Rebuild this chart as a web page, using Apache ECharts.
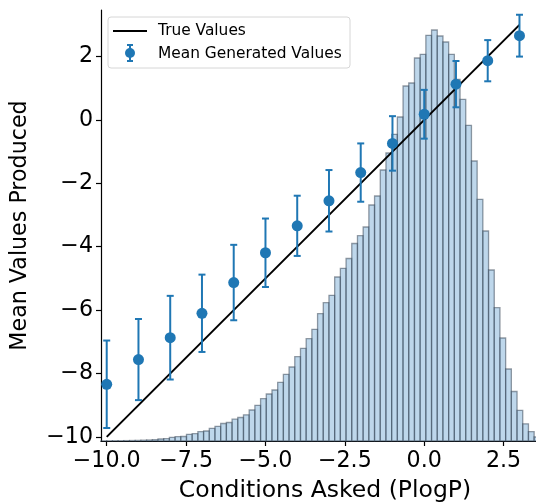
<!DOCTYPE html>
<html>
<head>
<meta charset="utf-8">
<script src="https://cdn.jsdelivr.net/npm/echarts@6/dist/echarts.min.js"></script>
<style>
html,body{margin:0;padding:0;background:#fff;}
#chart{width:536px;height:503px;}
</style>
</head>
<body>
<div id="chart"></div>
<script>
// ---- data ----
const conditions = [-10, -9, -8, -7, -6, -5, -4, -3, -2, -1, 0, 1, 2, 3];
const meanGenerated = [-8.34, -7.56, -6.87, -6.10, -5.13, -4.19, -3.34, -2.55, -1.66, -0.74, 0.18, 1.13, 1.87, 2.66];
const stdGenerated = [1.38, 1.28, 1.32, 1.22, 1.19, 1.08, 0.95, 0.97, 0.92, 0.86, 0.77, 0.73, 0.65, 0.66];
const trueLineX = [-10, 3];
const trueLineY = [-10, 3];
// histogram of the training-set PlogP (arbitrary count units)
const histStart = -10.18;
const histBinWidth = 0.1795;
const histCounts = [0.2, 0.2, 0.3, 0.3, 0.4, 0.5, 0.6, 0.8, 1.0, 1.3, 2.0, 2.3, 3.7, 4.3, 4.5, 6.7, 7.3, 9.3, 10, 12.7,
  14.7, 17.5, 18.5, 21.8, 23.5, 26.2, 31, 35.7, 42.3, 47, 51, 58.6, 66.7, 74, 84.3, 92.7, 102.3, 111.7, 127.3, 138.3,
  145.7, 164, 172.7, 182.5, 197.5, 205.3, 214, 236, 245, 271, 288, 306.7, 324, 355, 358, 383, 386.7, 405.7, 411, 405,
  399, 386.7, 361.7, 341.7, 315.7, 280, 241.7, 210, 171, 133.3, 103, 72, 49.5, 30.7, 17.2, 9.3, 4];
const xTicks = [-10, -7.5, -5, -2.5, 0, 2.5];
const yTicks = [-10, -8, -6, -4, -2, 0, 2];

const X_MIN = -10.18, X_MAX = 3.93, Y_MIN = -10.13, Y_MAX = 3.47, HIST_MAX = 431;
const BLUE = '#1f77b4';
const FONT = 'DejaVu Sans';

const histData = histCounts.map((c, i) => [histStart + i * histBinWidth, histStart + (i + 1) * histBinWidth, c]);
const errData = conditions.map((x, i) => [x, meanGenerated[i], stdGenerated[i]]);
const meanData = conditions.map((x, i) => [x, meanGenerated[i]]);
const lineData = trueLineX.map((x, i) => [x, trueLineY[i]]);

const fmtMinus = s => String(s).replace('-', '\u2212');

const chart = echarts.init(document.getElementById('chart'), null, {renderer: 'canvas'});
const option = {
  animation: false,
  backgroundColor: '#fff',
  grid: {left: 101, top: 10, right: -13, bottom: 62, containLabel: false, outerBoundsMode: 'none'},
  xAxis: [{
    type: 'value', min: X_MIN, max: X_MAX,
    name: 'Conditions Asked (PlogP)', nameLocation: 'middle', nameGap: 38,
    nameTextStyle: {fontFamily: FONT, fontSize: 23.5, color: '#000'},
    axisLine: {show: true, onZero: false, lineStyle: {color: '#000', width: 1.2}},
    axisTick: {show: true, customValues: xTicks, length: 5, lineStyle: {color: '#000', width: 1.2}},
    axisLabel: {show: true, customValues: xTicks, margin: 9, fontFamily: FONT, fontSize: 22.2, color: '#000',
      formatter: v => fmtMinus(v.toFixed(1))},
    splitLine: {show: false}
  }],
  yAxis: [{
    type: 'value', min: Y_MIN, max: Y_MAX,
    name: 'Mean Values Produced', nameLocation: 'middle', nameGap: 70,
    nameTextStyle: {fontFamily: FONT, fontSize: 22.2, color: '#000'},
    axisLine: {show: true, onZero: false, lineStyle: {color: '#000', width: 1.2}},
    axisTick: {show: true, customValues: yTicks, length: 5, lineStyle: {color: '#000', width: 1.2}},
    axisLabel: {show: true, customValues: yTicks, margin: 8, fontFamily: FONT, fontSize: 22.2, color: '#000',
      formatter: v => fmtMinus(Math.round(v))},
    splitLine: {show: false}
  }, {
    type: 'value', min: 0, max: HIST_MAX, show: false,
    axisLine: {show: false}, axisTick: {show: false}, axisLabel: {show: false}, splitLine: {show: false}
  }],
  series: [{
    name: 'Histogram', type: 'custom', xAxisIndex: 0, yAxisIndex: 1, z: 1, clip: false,
    data: histData,
    renderItem: (params, api) => {
      const p0 = api.coord([api.value(0), 0]);
      const p1 = api.coord([api.value(1), api.value(2)]);
      return {type: 'rect',
        shape: {x: p0[0], y: p1[1], width: p1[0] - p0[0], height: p0[1] - p1[1]},
        style: {fill: 'rgba(125,175,215,0.5)', stroke: 'rgba(45,60,75,0.5)', lineWidth: 1.3}};
    }
  }, {
    name: 'True Values', type: 'line', z: 3, data: lineData, symbol: 'none',
    lineStyle: {color: '#000', width: 2}
  }, {
    name: 'ErrorBars', type: 'custom', z: 4, data: errData,
    renderItem: (params, api) => {
      const x = api.value(0), m = api.value(1), e = api.value(2);
      const top = api.coord([x, m + e]);
      const bot = api.coord([x, m - e]);
      const cw = 3.5;
      const st = {stroke: BLUE, lineWidth: 2};
      return {type: 'group', children: [
        {type: 'line', shape: {x1: top[0], y1: top[1], x2: bot[0], y2: bot[1]}, style: st},
        {type: 'line', shape: {x1: top[0] - cw, y1: top[1], x2: top[0] + cw, y2: top[1]}, style: st},
        {type: 'line', shape: {x1: bot[0] - cw, y1: bot[1], x2: bot[0] + cw, y2: bot[1]}, style: st}
      ]};
    }
  }, {
    name: 'Mean Generated Values', type: 'scatter', z: 5, data: meanData,
    symbol: 'circle', symbolSize: 11, itemStyle: {color: BLUE, opacity: 1}
  }],
  graphic: [
    {type: 'rect', z: 100, shape: {x: 108, y: 17, width: 242, height: 51, r: 3},
      style: {fill: 'rgba(255,255,255,0.8)', stroke: '#d6d6d6', lineWidth: 1}},
    {type: 'line', z: 101, shape: {x1: 113, y1: 31, x2: 147, y2: 31}, style: {stroke: '#000', lineWidth: 2}},
    {type: 'text', z: 101, x: 158, y: 31, style: {text: 'True Values', fontFamily: FONT, fontSize: 15.4, fill: '#000', verticalAlign: 'middle'}},
    {type: 'line', z: 101, shape: {x1: 130, y1: 45, x2: 130, y2: 61}, style: {stroke: BLUE, lineWidth: 2}},
    {type: 'line', z: 101, shape: {x1: 127, y1: 45, x2: 133, y2: 45}, style: {stroke: BLUE, lineWidth: 2}},
    {type: 'line', z: 101, shape: {x1: 127, y1: 61, x2: 133, y2: 61}, style: {stroke: BLUE, lineWidth: 2}},
    {type: 'circle', z: 101, shape: {cx: 130, cy: 53, r: 5}, style: {fill: BLUE}},
    {type: 'text', z: 101, x: 158, y: 54, style: {text: 'Mean Generated Values', fontFamily: FONT, fontSize: 15.4, fill: '#000', verticalAlign: 'middle'}}
  ]
};
chart.setOption(option);
</script>
</body>
</html>
